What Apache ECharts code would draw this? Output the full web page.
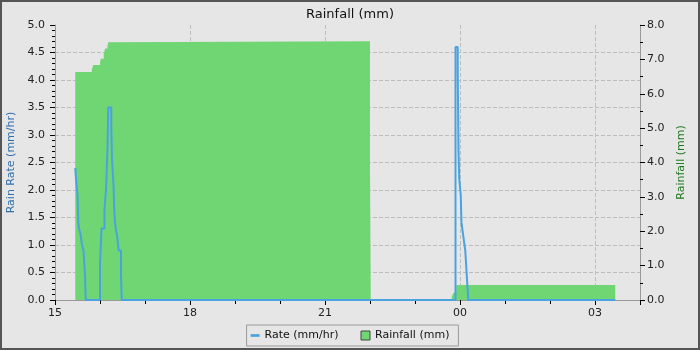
<!DOCTYPE html>
<html>
<head>
<meta charset="utf-8">
<script src="https://cdn.jsdelivr.net/npm/echarts@6/dist/echarts.min.js"></script>
<style>
  html, body { margin: 0; padding: 0; background: #e6e6e6; }
  #rainchart { width: 700px; height: 350px; }
</style>
</head>
<body>
<div id="rainchart"></div>
<script>
// rain rate (mm/hr), step changes
var rateTimes = ['15:27','15:28','15:30','15:31','15:32','15:34','15:36','15:38','15:40','15:41',
                 '16:00','16:02','16:06','16:08','16:10','16:11','16:15','16:16','16:18','16:19',
                 '16:20','16:21','16:23','16:24','16:25','16:28','16:29',
                 '23:54','23:57','23:58','23:59','00:01','00:02','00:03','00:04','00:06','00:07',
                 '00:09','00:11','03:27'];
var rateValues = [2.4, 2.2, 1.9, 1.4, 1.3, 1.2, 1.0, 0.9, 0.45, 0,
                  0.65, 1.3, 1.65, 2.0, 2.75, 3.5, 3.2, 2.55, 2.1, 1.65,
                  1.4, 1.3, 1.15, 1.0, 0.9, 0.45, 0,
                  4.6, 4.15, 2.7, 2.2, 1.9, 1.4, 1.3, 1.2, 1.0, 0.9,
                  0.45, 0, 0];

// rainfall (mm)
var rainTimes = ['15:27','15:49','15:51','16:00','16:01','16:05','16:07','16:10','16:11','16:12',
                 '22:00','22:01','23:49','23:51','23:53','23:55','03:27'];
var rainValues = [6.63, 6.7, 6.84, 6.9, 7.02, 7.18, 7.32, 7.4, 7.5, 7.53,
                  3.75, 0, 0.1, 0.2, 0.25, 0.44, 0];

var xLabels = ['15', '18', '21', '00', '03'];

var startHour = 15;
function toHours(t) {
    var p = t.split(':');
    var h = parseInt(p[0], 10) + parseInt(p[1], 10) / 60 - startHour;
    if (h < 0) h += 24;
    return h;
}
function pairs(times, vals) {
    var out = [];
    for (var i = 0; i < times.length; i++) out.push([toHours(times[i]), vals[i]]);
    return out;
}

var myChart = echarts.init(document.getElementById('rainchart'));
var fontFam = 'DejaVu Sans';
var option = {
    animation: false,
    backgroundColor: '#e6e6e6',
    textStyle: { fontFamily: fontFam },
    title: {
        text: 'Rainfall (mm)',
        left: 'center',
        top: 3,
        textStyle: { fontSize: 13, fontWeight: 'normal', color: '#111', fontFamily: fontFam }
    },
    graphic: [{
        type: 'rect',
        shape: { x: 1, y: 1, width: 698, height: 348 },
        style: { fill: 'none', stroke: '#555', lineWidth: 2 },
        z: 100
    }],
    legend: {
        top: 325,
        left: 'center',
        borderColor: '#999',
        borderWidth: 1,
        padding: [5, 9, 5, 4],
        itemGap: 22,
        itemWidth: 9,
        itemHeight: 9,
        textStyle: { fontSize: 11, color: '#111', fontFamily: fontFam },
        data: [
            { name: 'Rate (mm/hr)', icon: 'path://M0,0H10V3H0Z' },
            { name: 'Rainfall (mm)', icon: 'rect', itemStyle: { borderColor: '#444', borderWidth: 1 } }
        ]
    },
    grid: { left: 55, right: 60, top: 25, bottom: 50, outerBoundsMode: 'none', containLabel: false },
    xAxis: {
        type: 'value',
        min: 0,
        max: 13,
        interval: 3,
        axisLine: { lineStyle: { color: '#999' } },
        axisTick: { length: 5, lineStyle: { color: '#000' } },
        minorTick: { show: true, splitNumber: 3, length: 4, lineStyle: { color: '#000' } },
        axisLabel: {
            margin: 8,
            fontSize: 11,
            color: '#222',
            showMaxLabel: false,
            formatter: function (v) {
                if (Math.abs(v / 3 - Math.round(v / 3)) > 1e-6) return '';
                return xLabels[Math.round(v / 3)];
            }
        },
        splitLine: { show: true, lineStyle: { type: 'dashed', color: '#bdbdbd' } }
    },
    yAxis: [{
        type: 'value',
        min: 0,
        max: 5,
        interval: 0.5,
        name: 'Rain Rate (mm/hr)',
        nameLocation: 'middle',
        nameGap: 36,
        nameTextStyle: { color: '#2f6fae', fontSize: 11 },
        axisLine: { show: true, lineStyle: { color: '#999' } },
        axisTick: { show: true, length: 5, lineStyle: { color: '#000' } },
        minorTick: { show: true, splitNumber: 5, length: 3, lineStyle: { color: '#000' } },
        axisLabel: {
            margin: 10, fontSize: 11, color: '#222',
            formatter: function (v) { return v.toFixed(1); }
        },
        splitLine: { show: true, showMaxLine: false, lineStyle: { type: 'dashed', color: '#bdbdbd' } }
    }, {
        type: 'value',
        min: 0,
        max: 8,
        interval: 1,
        name: 'Rainfall (mm)',
        nameLocation: 'middle',
        nameGap: 32,
        nameRotate: 90,
        nameTextStyle: { color: '#1f7a1f', fontSize: 11 },
        axisLine: { show: true, lineStyle: { color: '#999' } },
        axisTick: { show: true, length: 5, lineStyle: { color: '#000' } },
        minorTick: { show: true, splitNumber: 2, length: 3, lineStyle: { color: '#000' } },
        axisLabel: {
            margin: 7, fontSize: 11, color: '#222',
            formatter: function (v) { return v.toFixed(1); }
        },
        splitLine: { show: false }
    }],
    series: [{
        name: 'Rainfall (mm)',
        type: 'line',
        yAxisIndex: 1,
        step: 'end',
        showSymbol: false,
        color: '#6fd673',
        lineStyle: { width: 0 },
        areaStyle: { color: '#6fd673', opacity: 1 },
        data: pairs(rainTimes, rainValues),
        z: 2
    }, {
        name: 'Rate (mm/hr)',
        type: 'line',
        yAxisIndex: 0,
        step: 'end',
        showSymbol: false,
        color: '#4aa3df',
        lineStyle: { width: 2, color: '#4aa3df' },
        data: pairs(rateTimes, rateValues),
        z: 3
    }]
};
myChart.setOption(option);
</script>
</body>
</html>
